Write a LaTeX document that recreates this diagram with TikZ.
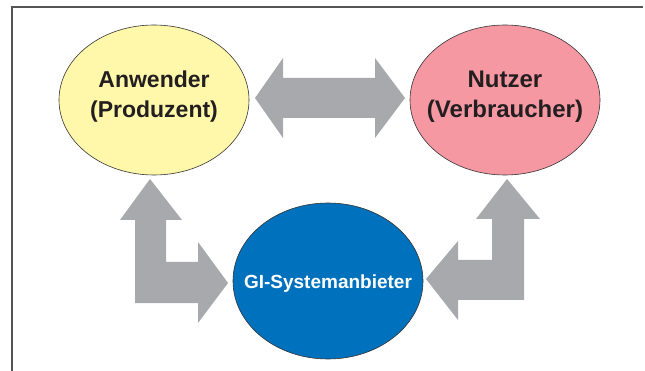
\documentclass[tikz,border=0pt]{standalone}
\usepackage{fontspec}
\setmainfont{Liberation Sans}
\usetikzlibrary{shapes.geometric}

\definecolor{yellowfill}{HTML}{FFF7AA}
\definecolor{pinkfill}{HTML}{F598A2}
\definecolor{bluefill}{HTML}{0071BC}
\definecolor{arrowgray}{HTML}{A8A9AD}
\definecolor{framegray}{HTML}{555555}
\definecolor{textdark}{HTML}{231F20}

\tikzset{
  party/.style={ellipse, draw=black!80, line width=0.6pt,
    minimum width=190pt, minimum height=150pt, inner sep=0pt},
  provider/.style={ellipse, draw=black!80, line width=0.6pt, fill=bluefill,
    minimum width=190pt, minimum height=156pt, inner sep=0pt},
  partytext/.style={anchor=base, text=textdark, inner sep=0pt,
    font=\bfseries\fontsize{#1}{#1}\selectfont},
  blockarrow/.style={fill=arrowgray, draw=none},
  frameline/.style={draw=framegray, line width=1.2pt}
}

\begin{document}
\begin{tikzpicture}[x=1pt, y=-1pt]
  \useasboundingbox (0,0) rectangle (645,371);
  \fill[white] (0,0) rectangle (645,371);

  % frame
  \draw[frameline] (12,371) -- (12,7) -- (643,7);

  % the three parties
  \node[party, fill=yellowfill] (anwender) at (154,100) {};
  \node[party, fill=pinkfill]   (nutzer)   at (505,100) {};
  \node[provider]               (gi)       at (328,281) {};

  \node[partytext=23] (anwender-l1) at (154,88)  {Anwender};
  \node[partytext=23] (anwender-l2) at (154,118) {(Produzent)};
  \node[partytext=24] (nutzer-l1)   at (505,88)  {Nutzer};
  \node[partytext=24] (nutzer-l2)   at (505,118) {(Verbraucher)};
  \node[anchor=base, text=white, inner sep=0pt,
        font=\bfseries\fontsize{19}{19}\selectfont] (gi-l) at (328,288) {GI-Systemanbieter};

  % double arrow between Anwender and Nutzer
  \fill[blockarrow] (255,98) -- (283,58) -- (283,78) -- (375,78) -- (375,58)
    -- (405,98) -- (375,138) -- (375,118) -- (283,118) -- (283,138) -- cycle;

  % bent arrow Anwender <-> GI-Systemanbieter
  \fill[blockarrow] (150,179) -- (182,220) -- (166,220) -- (166,262) -- (198,262)
    -- (198,242) -- (228,283) -- (198,323) -- (198,303) -- (135,303)
    -- (135,220) -- (120,220) -- cycle;

  % bent arrow Nutzer <-> GI-Systemanbieter
  \fill[blockarrow] (507,179) -- (540,219) -- (524,219) -- (524,300) -- (458,300)
    -- (458,320) -- (426,279) -- (458,241) -- (458,260) -- (492,260)
    -- (492,219) -- (476,219) -- cycle;
\end{tikzpicture}
\end{document}
